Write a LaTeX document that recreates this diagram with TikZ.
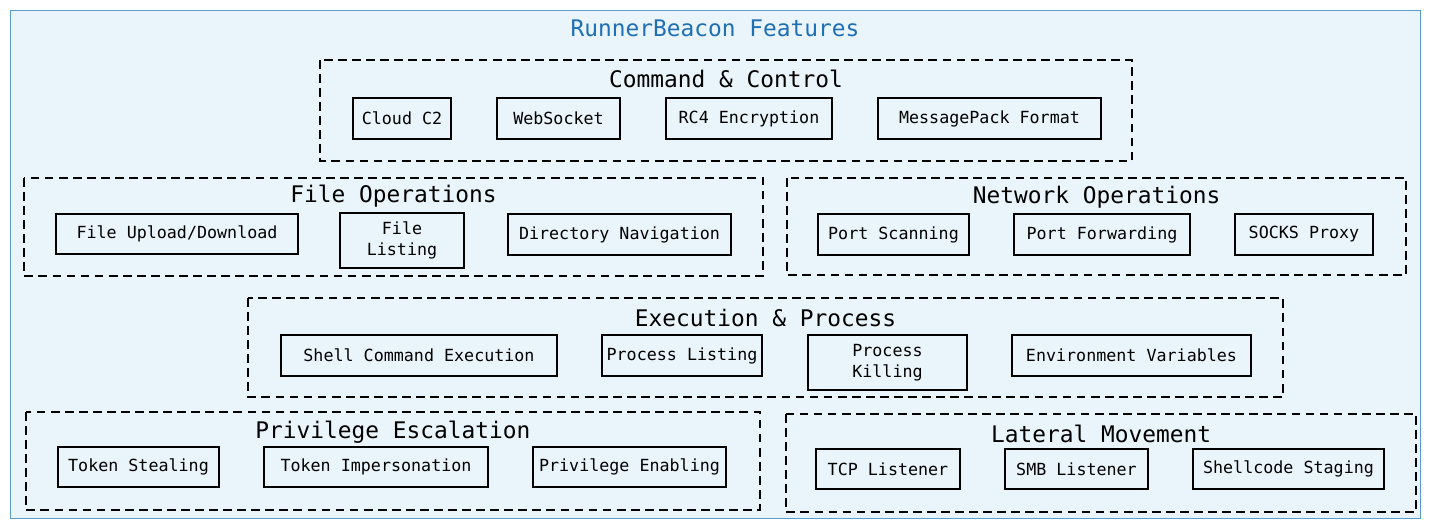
\documentclass[tikz,border=0pt]{standalone}
\usepackage{fontspec}
\setmonofont{DejaVu Sans Mono}
\usetikzlibrary{positioning}
\definecolor{panel}{HTML}{EAF4FB}
\definecolor{titleblue}{HTML}{1F6FB5}
\definecolor{rim}{HTML}{5A9BD0}
\begin{document}
\begin{tikzpicture}[x=0.02cm,y=-0.02cm,
  group/.style={draw,thick,dash pattern=on 5pt off 3pt},
  feat/.style={draw,thick,fill=panel},
  gtitle/.style={font=\ttfamily\fontsize{13}{14}\selectfont},
  ftext/.style={font=\ttfamily\fontsize{9.5}{12}\selectfont,align=center}]
\def\grp#1#2#3#4#5#6#7{
\draw[group] (#2,#3) rectangle (#4,#5);
\node[gtitle] (#1) at ({(#2+#4)/2},#6) {#7};
}
\def\feat#1#2#3#4#5#6{
\draw[feat] (#2,#3) rectangle (#4,#5);
\node[ftext] (#1) at ({(#2+#4)/2},{(#3+#5)/2}) {#6};
}
\useasboundingbox (0,0) rectangle (1430,529);
\draw[rim,fill=panel] (10,10) rectangle (1420,518);
\node[gtitle,text=titleblue] (title) at (715,28) {RunnerBeacon Features};
% command & control
\grp{cc}{320}{60}{1132}{161}{79}{Command \& Control}
\feat{cloud}{353}{98}{451}{139}{Cloud C2}
\feat{ws}{497}{98}{620}{139}{WebSocket}
\feat{rc4}{666}{98}{832}{139}{RC4 Encryption}
\feat{msgpack}{878}{98}{1101}{139}{MessagePack Format}
% file operations
\grp{fileops}{24}{178}{763}{276}{196}{File Operations}
\feat{updown}{56}{214}{298}{254}{File Upload/Download}
\feat{listing}{340}{213}{464}{268}{File\\Listing}
\feat{dirnav}{508}{214}{731}{255}{Directory Navigation}
% network operations
\grp{netops}{787}{178}{1406}{275}{197}{Network Operations}
\feat{portscan}{818}{214}{969}{255}{Port Scanning}
\feat{portfwd}{1014}{214}{1190}{255}{Port Forwarding}
\feat{socks}{1235}{214}{1373}{255}{SOCKS Proxy}
% execution & process
\grp{exec}{248}{298}{1283}{397}{318}{Execution \& Process}
\feat{shell}{281}{335}{557}{376}{Shell Command Execution}
\feat{proclist}{602}{335}{762}{376}{Process Listing}
\feat{prockill}{808}{335}{967}{390}{Process\\Killing}
\feat{envvars}{1012}{335}{1251}{376}{Environment Variables}
% privilege escalation
\grp{privesc}{26}{412}{760}{510}{432}{Privilege Escalation}
\feat{steal}{58}{447}{219}{487}{Token Stealing}
\feat{impers}{264}{447}{488}{487}{Token Impersonation}
\feat{enable}{533}{447}{726}{487}{Privilege Enabling}
% lateral movement
\grp{lateral}{786}{414}{1416}{512}{434}{Lateral Movement}
\feat{tcp}{816}{449}{960}{489}{TCP Listener}
\feat{smb}{1005}{449}{1148}{489}{SMB Listener}
\feat{staging}{1193}{449}{1384}{489}{Shellcode Staging}
\end{tikzpicture}
\end{document}
